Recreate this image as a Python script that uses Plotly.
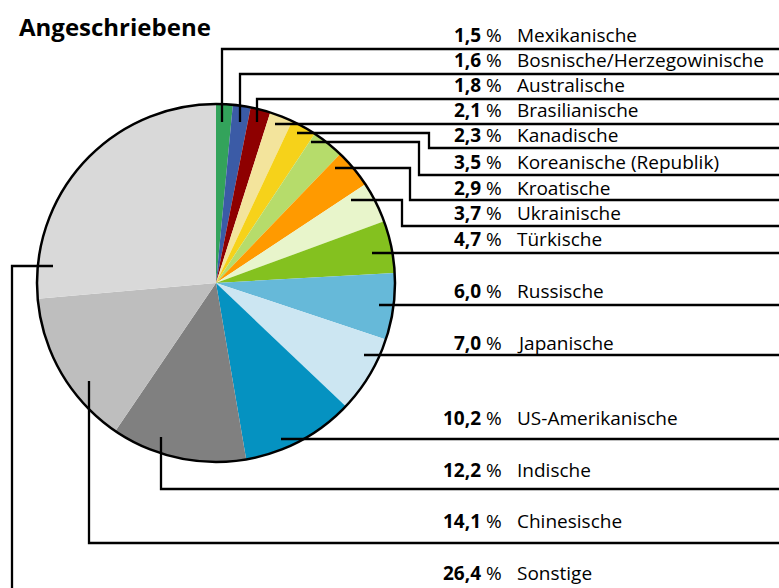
import plotly.graph_objects as go

W, H = 779, 588

# data (label list order, as printed on the right)
labels = [
    "Mexikanische", "Bosnische/Herzegowinische", "Australische", "Brasilianische",
    "Kanadische", "Koreanische (Republik)", "Kroatische", "Ukrainische", "Türkische",
    "Russische", "Japanische", "US-Amerikanische", "Indische", "Chinesische", "Sonstige",
]
shares = [1.5, 1.6, 1.8, 2.1, 2.3, 3.5, 2.9, 3.7, 4.7, 6.0, 7.0, 10.2, 12.2, 14.1, 26.4]

# order in which the slices are drawn clockwise from 12 o'clock, and their colours
pie_order = [0, 1, 2, 3, 4, 6, 5, 7, 8, 9, 10, 11, 12, 13, 14]
pie_colors = [
    "#33a35b", "#3b5ba6", "#8e0000", "#f3e49c", "#f6d21a", "#b6dc6b", "#ff9a00",
    "#e8f5cb", "#84c11f", "#66b9d9", "#cce6f2", "#0592c1", "#808080", "#bebebe", "#d9d9d9",
]

# layout of the labels (pixels)
text_y = [35, 60, 85, 110, 135, 162, 188, 213, 239, 291, 343, 418, 470, 521, 573]
leaders = [
    [(222, 122), (222, 49), (W, 49)],
    [(240, 122), (240, 74), (W, 74)],
    [(257, 122), (257, 99), (W, 99)],
    [(275, 124), (W, 124)],
    [(297, 133), (429, 133), (429, 148), (W, 148)],
    [(311, 142), (419, 142), (419, 175), (W, 175)],
    [(335, 168), (410, 168), (410, 200), (W, 200)],
    [(351, 200), (402, 200), (402, 226), (W, 226)],
    [(372, 253), (W, 253)],
    [(379, 305), (W, 305)],
    [(364, 355), (W, 355)],
    [(281, 439), (W, 439)],
    [(161, 437), (161, 489), (W, 489)],
    [(89, 381), (89, 543), (W, 543)],
    [(53, 266), (12, 266), (12, H + 5)],
]
cx, cy, r = 216, 283, 179


def px(x):
    return x / W


def py(y):
    return 1 - y / H


fig = go.Figure()
fig.add_trace(
    go.Pie(
        values=[shares[i] for i in pie_order],
        labels=[labels[i] for i in pie_order],
        marker=dict(colors=pie_colors, line=dict(width=0)),
        sort=False,
        direction="clockwise",
        rotation=0,
        textinfo="none",
        hoverinfo="label+value",
        showlegend=False,
        domain=dict(x=[px(cx - r), px(cx + r)], y=[py(cy + r), py(cy - r)]),
    )
)

shapes = [
    dict(
        type="circle", xref="paper", yref="paper",
        x0=px(cx - r), x1=px(cx + r), y0=py(cy + r), y1=py(cy - r),
        line=dict(color="black", width=2.5),
    )
]
for pts in leaders:
    path = "M " + " L ".join(f"{px(x)},{py(y)}" for x, y in pts)
    shapes.append(dict(type="path", xref="paper", yref="paper", path=path,
                       line=dict(color="black", width=2.3)))

annotations = [
    dict(text="<b>Angeschriebene</b>", x=px(18), y=py(26), xref="paper", yref="paper",
         xanchor="left", yanchor="middle", showarrow=False, borderpad=0,
         font=dict(family="Open Sans", size=24, color="black"))
]
for name, v, ty in zip(labels, shares, text_y):
    num = f"{v:.1f}".replace(".", ",")
    annotations.append(dict(
        text=f"<b>{num}</b> %", x=px(503), y=py(ty), xref="paper", yref="paper",
        xanchor="right", yanchor="middle", showarrow=False, borderpad=0,
        font=dict(family="Open Sans", size=19, color="black")))
    annotations.append(dict(
        text=name, x=px(516), y=py(ty), xref="paper", yref="paper",
        xanchor="left", yanchor="middle", showarrow=False, borderpad=0,
        font=dict(family="Open Sans", size=19, color="black")))

fig.update_layout(
    width=W, height=H, autosize=False,
    margin=dict(l=0, r=0, t=0, b=0),
    paper_bgcolor="white", plot_bgcolor="white",
    shapes=shapes, annotations=annotations,
)
fig.write_html("out.html", config={"displayModeBar": False},
               post_script="document.body.style.margin='0';")
